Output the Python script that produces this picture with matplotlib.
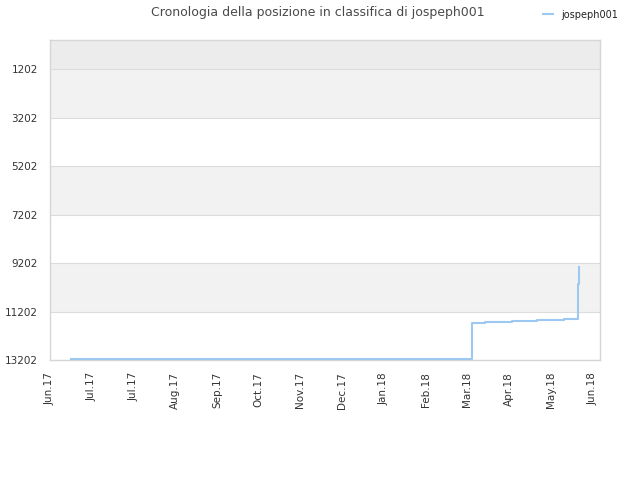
import matplotlib
matplotlib.use("Agg")
import matplotlib.pyplot as plt
import matplotlib.dates as mdates
import datetime as dt

# Data
dates = ["2017-06-17", "2018-03-13", "2018-03-22", "2018-04-09", "2018-04-26",
         "2018-05-14", "2018-05-23", "2018-05-24"]
ranks = [13180, 11664, 11623, 11581, 11540, 11499, 10068, 9379]
series_name = "jospeph001"
title = "Cronologia della posizione in classifica di jospeph001"

tick_dates = ["2017-06-03", "2017-07-01", "2017-07-29", "2017-08-26", "2017-09-23",
              "2017-10-21", "2017-11-18", "2017-12-16", "2018-01-13", "2018-02-10",
              "2018-03-10", "2018-04-07", "2018-05-05", "2018-06-02"]
tick_labels = ["Jun.17", "Jul.17", "Jul.17", "Aug.17", "Sep.17", "Oct.17", "Nov.17",
               "Dec.17", "Jan.18", "Feb.18", "Mar.18", "Apr.18", "May.18", "Jun.18"]
y_ticks = [1202, 3202, 5202, 7202, 9202, 11202, 13202]

def d(s):
    return dt.datetime.strptime(s, "%Y-%m-%d")

x = [d(s) for s in dates]
tx = [d(s) for s in tick_dates]

fig = plt.figure(figsize=(6.4, 4.8), dpi=100)
ax = fig.add_axes([0.078, 0.25, 0.8595, 0.6667])

xmin = d("2017-06-03")
xmax = d("2018-06-07")
ax.set_xlim(xmin, xmax)
ax.set_ylim(13202, 1)

# bands
ax.axhspan(1, 1202, color="#ececec", zorder=0, lw=0)
for i in range(len(y_ticks) - 1):
    if i % 2 == 0:
        ax.axhspan(y_ticks[i], y_ticks[i + 1], color="#f2f2f2", zorder=0, lw=0)

ax.set_yticks(y_ticks)
ax.set_yticklabels([str(v) for v in y_ticks])
ax.grid(axis="y", color="#dcdcdc", lw=0.8, zorder=1)
ax.set_axisbelow(True)

ax.plot(x, ranks, drawstyle="steps-post", color="#9cc8f2", lw=1.5, zorder=3,
        label=series_name)

ax.set_xticks(mdates.date2num(tx))
ax.set_xticklabels(tick_labels, rotation=90)

for s in ax.spines.values():
    s.set_color("#d6d6d6")
    s.set_linewidth(1)

ax.tick_params(axis="both", length=0, labelsize=7.5, colors="#333333")
ax.tick_params(axis="x", pad=8.6)
ax.tick_params(axis="y", pad=8.6)

fig.text(0.497, 0.973, title, ha="center", va="center", fontsize=9, color="#4a4a4a")

leg = fig.legend(loc="center left", bbox_to_anchor=(0.835, 0.969), frameon=False,
                 fontsize=7, handlelength=1.0, handletextpad=0.9)
for t in leg.get_texts():
    t.set_color("#222222")

fig.savefig("out.png", dpi=100)
